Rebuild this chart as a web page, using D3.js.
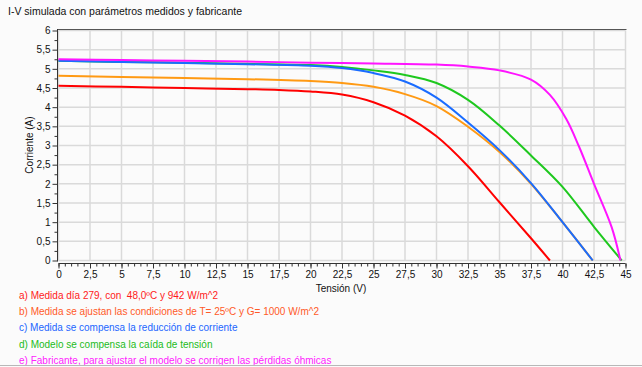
<!DOCTYPE html>
<html>
<head>
<meta charset="utf-8">
<script src="https://cdn.jsdelivr.net/npm/d3@7"></script>
<style>
body { margin: 0; background: #fbfbfb; }
svg { display: block; font-family: "Liberation Sans", Arial, sans-serif; }
</style>
</head>
<body>
<div id="chart"></div>
<script>
// curvas I-V (tension en V, corriente en A)
var tensionA = [0, 5, 10, 15, 17.5, 20, 22.5, 25, 27.5, 30, 32.5, 35, 37.5, 39];
var corrienteA = [4.56, 4.53, 4.50, 4.47, 4.45, 4.41, 4.33, 4.13, 3.78, 3.24, 2.46, 1.52, 0.58, 0];

var tensionB = [0, 5, 10, 15, 20, 22.5, 25, 27.5, 30, 32.5, 35, 37.5, 40, 42.4];
var corrienteB = [4.82, 4.79, 4.76, 4.73, 4.68, 4.63, 4.53, 4.34, 4.03, 3.49, 2.83, 2.0, 1.0, 0];

var tensionC = [0, 5, 10, 15, 20, 22.5, 25, 27.5, 30, 32.5, 35, 37.5, 40, 42.4];
var corrienteC = [5.21, 5.18, 5.15, 5.12, 5.08, 5.02, 4.89, 4.67, 4.25, 3.60, 2.88, 2.02, 1.0, 0];

var tensionD = [0, 5, 10, 15, 20, 22.5, 25, 27.5, 30, 32.5, 35, 37.5, 40, 42.5, 44.7];
var corrienteD = [5.21, 5.18, 5.16, 5.13, 5.10, 5.05, 4.96, 4.84, 4.63, 4.19, 3.52, 2.74, 1.92, 0.88, 0];

var tensionE = [0, 5, 10, 15, 20, 25, 30, 32.5, 35, 37.5, 39, 40.3, 41.3, 42.5, 43.9, 44.6];
var corrienteE = [5.25, 5.23, 5.21, 5.19, 5.16, 5.14, 5.11, 5.06, 4.96, 4.72, 4.32, 3.69, 2.98, 2.0, 0.87, 0];

var leyendas = [
	'a) Medida día 279, con  48,0ºC y 942 W/m^2',
	'b) Medida se ajustan las condiciones de T= 25ºC y G= 1000 W/m^2',
	'c) Medida se compensa la reducción de corriente',
	'd) Modelo se compensa la caída de tensión',
	'e) Fabricante, para ajustar el modelo se corrigen las pérdidas óhmicas'
];

var xTicks = [0, 2.5, 5, 7.5, 10, 12.5, 15, 17.5, 20, 22.5, 25, 27.5, 30, 32.5, 35, 37.5, 40, 42.5, 45];
var yTicks = [0, 0.5, 1, 1.5, 2, 2.5, 3, 3.5, 4, 4.5, 5, 5.5, 6];

var width = 642;
var height = 367;
var curveColors = ['#ff0000', '#ff9a14', '#1a6cff', '#1ec81e', '#ff14ff'];
var textColors = ['#ff1a1a', '#ff5a28', '#2266ff', '#22bb22', '#ff22ff'];

var svg = d3.select('#chart')
	.append('svg')
	.attr('width', width)
	.attr('height', height);

var x = d3.scaleLinear().domain([0, 45]).range([58.5, 625.5]);
var y = d3.scaleLinear().domain([0, 6]).range([260.5, 30.5]);

var comma = function(d) {
	return String(d).replace('.', ',');
};

// titulo
svg.append('text')
	.attr('x', 8)
	.attr('y', 15)
	.style('font-size', '10.5px')
	.style('fill', '#111')
	.text('I-V simulada con parámetros medidos y fabricante');

// rejilla
var grid = svg.append('g').classed('grid', true);
grid.selectAll('line.v')
	.data(xTicks)
	.enter().append('line')
	.attr('x1', function(d) { return x(d); })
	.attr('x2', function(d) { return x(d); })
	.attr('y1', y(6))
	.attr('y2', y(0))
	.style('stroke', '#dadada')
	.style('stroke-width', 1.5);
grid.selectAll('line.h')
	.data(yTicks)
	.enter().append('line')
	.attr('x1', x(0))
	.attr('x2', x(45))
	.attr('y1', function(d) { return y(d); })
	.attr('y2', function(d) { return y(d); })
	.style('stroke', '#dadada')
	.style('stroke-width', 1.5);

// borde superior
svg.append('line')
	.attr('x1', 58)
	.attr('x2', x(45) + 1)
	.attr('y1', 29.5)
	.attr('y2', 29.5)
	.style('stroke', '#555');

// ejes
var yAxis = svg.append('g')
	.attr('transform', 'translate(57.5,0)')
	.call(d3.axisLeft(y).tickValues(yTicks).tickFormat(comma).tickSize(5).tickPadding(2));
var yMinor = svg.append('g')
	.attr('transform', 'translate(57.5,0)')
	.call(d3.axisLeft(y).tickValues(d3.range(0.25, 6, 0.5)).tickFormat('').tickSize(3));

var xAxis = svg.append('g')
	.attr('transform', 'translate(0,263.5)')
	.call(d3.axisBottom(x).tickValues(xTicks).tickFormat(comma).tickSize(5).tickPadding(2));
var xMinor = svg.append('g')
	.attr('transform', 'translate(0,263.5)')
	.call(d3.axisBottom(x).tickValues(d3.range(0, 45.01, 0.5)).tickFormat('').tickSize(3));

svg.selectAll('.domain').remove();
yAxis.append('line').attr('x1', 0).attr('x2', 0).attr('y1', 29).attr('y2', y(0) + 1).style('stroke', '#333');
xAxis.append('line').attr('x1', x(0)).attr('x2', x(45)).attr('y1', 0).attr('y2', 0).style('stroke', '#333');
svg.selectAll('.tick line').style('stroke', '#333');
svg.selectAll('.tick text')
	.style('font-size', '10px')
	.style('font-family', '"Liberation Sans", Arial, sans-serif')
	.style('fill', '#111');

// titulos de ejes
svg.append('text')
	.attr('transform', 'translate(33,145) rotate(-90)')
	.attr('text-anchor', 'middle')
	.style('font-size', '10px')
	.style('fill', '#111')
	.text('Corriente (A)');
svg.append('text')
	.attr('x', 341)
	.attr('y', 292)
	.attr('text-anchor', 'middle')
	.style('font-size', '10px')
	.style('fill', '#111')
	.text('Tensión (V)');

// curvas
var series = [
	[tensionA, corrienteA],
	[tensionB, corrienteB],
	[tensionD, corrienteD],
	[tensionC, corrienteC],
	[tensionE, corrienteE]
];
var order = [0, 1, 3, 2, 4];

var line = d3.line()
	.x(function(d) { return x(d[0]); })
	.y(function(d) { return y(d[1]); })
	.curve(d3.curveCatmullRom.alpha(0.5));

svg.append('g').classed('curves', true)
	.selectAll('path')
	.data(series)
	.enter().append('path')
	.attr('d', function(s) {
		return line(d3.zip(s[0], s[1]));
	})
	.style('fill', 'none')
	.style('stroke', function(d, i) { return curveColors[order[i]]; })
	.style('stroke-width', 2);

// leyenda
svg.append('g').classed('legend', true)
	.selectAll('text')
	.data(leyendas)
	.enter().append('text')
	.attr('x', 19)
	.attr('y', function(d, i) { return 299 + i * 16.2; })
	.attr('xml:space', 'preserve')
	.style('white-space', 'pre')
	.style('font-size', '10px')
	.style('fill', function(d, i) { return textColors[i]; })
	.text(function(d) { return d; });

// marco
svg.append('line')
	.attr('x1', 0).attr('x2', width)
	.attr('y1', 365.5).attr('y2', 365.5)
	.style('stroke', '#b8b8b8');
</script>
</body>
</html>
